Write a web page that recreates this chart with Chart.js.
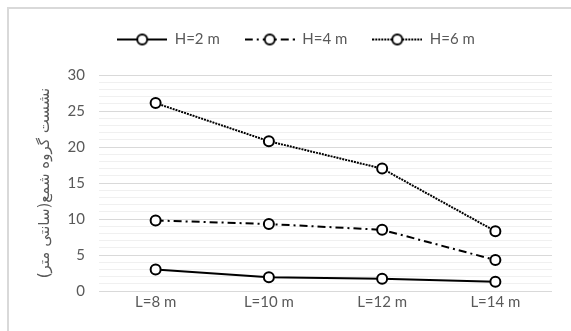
<!DOCTYPE html>
<html>
<head>
<meta charset="utf-8">
<script src="https://cdn.jsdelivr.net/npm/chart.js@4.4.0/dist/chart.umd.min.js"></script>
<style>
html,body{margin:0;padding:0;background:#fff;}
#wrap{position:absolute;left:0;top:0;width:571px;height:331px;}
#frame{position:absolute;left:7px;top:7px;width:600px;height:400px;border-left:2px solid #d9d9d9;border-top:2px solid #d9d9d9;}
</style>
</head>
<body>
<div id="frame"></div>
<div id="wrap"><canvas id="c" width="571" height="331"></canvas></div>
<script>
const categories = ['L=8 m', 'L=10 m', 'L=12 m', 'L=14 m'];
const seriesNames = ['H=2 m', 'H=4 m', 'H=6 m'];
const h2 = [3.0, 1.9, 1.7, 1.3];
const h4 = [9.8, 9.3, 8.5, 4.3];
const h6 = [26.1, 20.8, 17.0, 8.3];
const yTitle = 'نشست گروه شمع(سانتی متر)';

const dashes = [[], [8, 4, 2, 4], [2, 1]];
const textColor = '#595959';
const fontFam = 'Lato, "Open Sans", sans-serif';

function makeSample(dash) {
  const cv = document.createElement('canvas');
  cv.width = 50; cv.height = 14;
  const g = cv.getContext('2d');
  g.strokeStyle = '#000';
  g.lineWidth = 2;
  g.setLineDash(dash);
  g.beginPath(); g.moveTo(0, 7); g.lineTo(50, 7); g.stroke();
  g.setLineDash([]);
  g.fillStyle = '#fff';
  g.beginPath(); g.arc(25, 7, 5, 0, Math.PI * 2); g.fill(); g.stroke();
  return cv;
}

const seriesData = [h2, h4, h6];
const datasets = seriesData.map((d, i) => ({
  label: seriesNames[i],
  data: d,
  xAxisID: 'x',
  yAxisID: 'y',
  borderColor: '#000',
  borderWidth: 2,
  borderDash: dashes[i],
  pointRadius: 5,
  pointHoverRadius: 5,
  pointBorderWidth: 2,
  pointBackgroundColor: '#fff',
  pointBorderColor: '#000',
  pointStyle: 'circle',
  tension: 0,
  fill: false
}));
const samples = dashes.map(makeSample);

new Chart(document.getElementById('c'), {
  type: 'line',
  data: { labels: categories, datasets },
  options: {
    responsive: false,
    animation: false,
    layout: { padding: { left: 40, right: 19, top: 7, bottom: 18 } },
    plugins: {
      tooltip: { enabled: false },
      legend: {
        position: 'top',
        labels: {
          usePointStyle: true,
          pointStyleWidth: 50,
          color: textColor,
          font: { family: fontFam, size: 15 },
          padding: 25,
          generateLabels: (chart) => chart.data.datasets.map((ds, i) => ({
            text: ds.label,
            pointStyle: samples[i],
            fillStyle: '#fff',
            strokeStyle: '#000',
            lineWidth: 0,
            fontColor: textColor,
            datasetIndex: i,
            hidden: false
          }))
        }
      }
    },
    scales: {
      x: {
        offset: true,
        grid: { display: false, drawTicks: false, offset: true },
        border: { display: false },
        ticks: { color: textColor, font: { family: fontFam, size: 15 }, padding: 2, maxRotation: 0 }
      },
      xTop: {
        type: 'category',
        axis: 'x',
        position: 'top',
        offset: true,
        grid: { display: false, drawTicks: false },
        border: { display: false },
        ticks: { display: false },
        title: { display: true, text: '', font: { size: 10, lineHeight: 1 }, padding: { top: 8, bottom: 0 } }
      },
      y: {
        min: 0, max: 30,
        afterFit: (s) => { s.width = 59; },
        border: { display: false },
        grid: {
          drawTicks: false,
          color: (ctx) => (ctx.tick && ctx.tick.value % 5 === 0) ? '#d9d9d9' : '#f0f0f0',
          lineWidth: 1
        },
        ticks: {
          stepSize: 1,
          autoSkip: false,
          padding: 14,
          color: textColor,
          font: { family: fontFam, size: 15 },
          callback: (v) => (v % 5 === 0 ? String(v) : '')
        },
        title: {
          display: true,
          text: yTitle,
          color: textColor,
          font: { family: '"DejaVu Sans", sans-serif', size: 15 },
          padding: { top: -4, bottom: 0 }
        }
      }
    }
  }
});
</script>
</body>
</html>
